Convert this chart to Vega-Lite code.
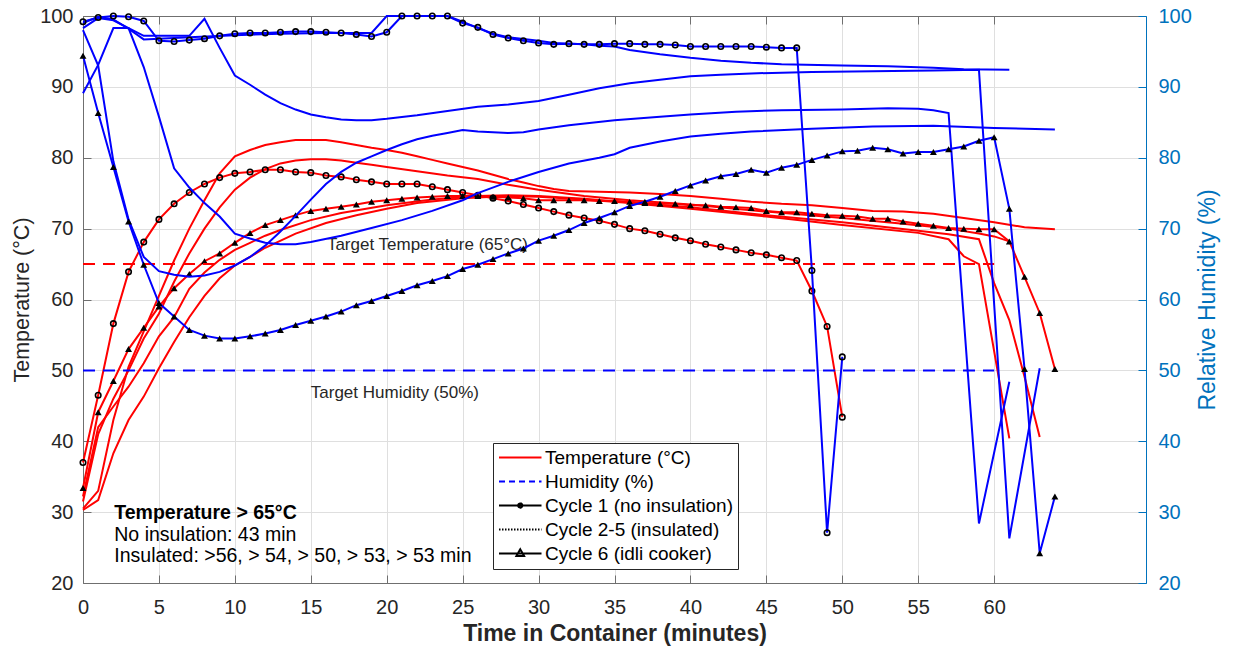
{
  "$schema": "https://vega.github.io/schema/vega-lite/v6.json",
  "width": 1063,
  "height": 567,
  "autosize": {"type": "none"},
  "padding": {"left": 83, "top": 16, "right": 87, "bottom": 65},
  "background": "white",
  "config": {
    "view": {"stroke": null},
    "font": "Liberation Sans",
    "axis": {"labelFont": "Liberation Sans", "titleFont": "Liberation Sans", "labelFlush": false},
    "legend": {"labelFont": "Liberation Sans"}
  },
  "datasets": {
    "temperature": [
      {"cycle":"Cycle 1","time":0,"value":37.0},{"cycle":"Cycle 1","time":1,"value":46.5},{"cycle":"Cycle 1","time":2,"value":56.6},{"cycle":"Cycle 1","time":3,"value":63.9},{"cycle":"Cycle 1","time":4,"value":68.1},{"cycle":"Cycle 1","time":5,"value":71.3},{"cycle":"Cycle 1","time":6,"value":73.5},{"cycle":"Cycle 1","time":7,"value":75.1},{"cycle":"Cycle 1","time":8,"value":76.3},{"cycle":"Cycle 1","time":9,"value":77.2},
      {"cycle":"Cycle 1","time":10,"value":77.8},{"cycle":"Cycle 1","time":11,"value":78.0},{"cycle":"Cycle 1","time":12,"value":78.3},{"cycle":"Cycle 1","time":13,"value":78.3},{"cycle":"Cycle 1","time":14,"value":78.0},{"cycle":"Cycle 1","time":15,"value":77.9},{"cycle":"Cycle 1","time":16,"value":77.5},{"cycle":"Cycle 1","time":17,"value":77.3},{"cycle":"Cycle 1","time":18,"value":76.9},{"cycle":"Cycle 1","time":19,"value":76.6},
      {"cycle":"Cycle 1","time":20,"value":76.3},{"cycle":"Cycle 1","time":21,"value":76.3},{"cycle":"Cycle 1","time":22,"value":76.3},{"cycle":"Cycle 1","time":23,"value":75.9},{"cycle":"Cycle 1","time":24,"value":75.5},{"cycle":"Cycle 1","time":25,"value":75.1},{"cycle":"Cycle 1","time":26,"value":74.7},{"cycle":"Cycle 1","time":27,"value":74.3},{"cycle":"Cycle 1","time":28,"value":73.9},{"cycle":"Cycle 1","time":29,"value":73.4},
      {"cycle":"Cycle 1","time":30,"value":72.9},{"cycle":"Cycle 1","time":31,"value":72.4},{"cycle":"Cycle 1","time":32,"value":71.9},{"cycle":"Cycle 1","time":33,"value":71.5},{"cycle":"Cycle 1","time":34,"value":71.1},{"cycle":"Cycle 1","time":35,"value":70.6},{"cycle":"Cycle 1","time":36,"value":70.0},{"cycle":"Cycle 1","time":37,"value":69.7},{"cycle":"Cycle 1","time":38,"value":69.2},{"cycle":"Cycle 1","time":39,"value":68.7},
      {"cycle":"Cycle 1","time":40,"value":68.3},{"cycle":"Cycle 1","time":41,"value":67.8},{"cycle":"Cycle 1","time":42,"value":67.4},{"cycle":"Cycle 1","time":43,"value":67.0},{"cycle":"Cycle 1","time":44,"value":66.6},{"cycle":"Cycle 1","time":45,"value":66.3},{"cycle":"Cycle 1","time":46,"value":65.9},{"cycle":"Cycle 1","time":47,"value":65.5},{"cycle":"Cycle 1","time":48,"value":61.2},{"cycle":"Cycle 1","time":49,"value":56.2},
      {"cycle":"Cycle 1","time":50,"value":43.4},

      {"cycle":"Cycle 2","time":0,"value":30.5},{"cycle":"Cycle 2","time":1,"value":33.0},{"cycle":"Cycle 2","time":2,"value":43.0},{"cycle":"Cycle 2","time":3,"value":50.5},{"cycle":"Cycle 2","time":4,"value":55.5},{"cycle":"Cycle 2","time":5,"value":60.5},{"cycle":"Cycle 2","time":6,"value":65.5},{"cycle":"Cycle 2","time":7,"value":70.0},{"cycle":"Cycle 2","time":8,"value":74.0},{"cycle":"Cycle 2","time":9,"value":77.8},
      {"cycle":"Cycle 2","time":10,"value":80.2},{"cycle":"Cycle 2","time":11,"value":81.1},{"cycle":"Cycle 2","time":12,"value":81.8},{"cycle":"Cycle 2","time":13,"value":82.2},{"cycle":"Cycle 2","time":14,"value":82.5},{"cycle":"Cycle 2","time":15,"value":82.5},{"cycle":"Cycle 2","time":16,"value":82.5},{"cycle":"Cycle 2","time":17,"value":82.2},{"cycle":"Cycle 2","time":18,"value":81.8},{"cycle":"Cycle 2","time":19,"value":81.4},
      {"cycle":"Cycle 2","time":20,"value":81.1},{"cycle":"Cycle 2","time":21,"value":80.7},{"cycle":"Cycle 2","time":22,"value":80.2},{"cycle":"Cycle 2","time":23,"value":79.7},{"cycle":"Cycle 2","time":24,"value":79.2},{"cycle":"Cycle 2","time":25,"value":78.7},{"cycle":"Cycle 2","time":26,"value":78.2},{"cycle":"Cycle 2","time":27,"value":77.6},{"cycle":"Cycle 2","time":28,"value":77.0},{"cycle":"Cycle 2","time":29,"value":76.5},
      {"cycle":"Cycle 2","time":30,"value":76.0},{"cycle":"Cycle 2","time":31,"value":75.6},{"cycle":"Cycle 2","time":32,"value":75.3},{"cycle":"Cycle 2","time":34,"value":75.2},{"cycle":"Cycle 2","time":36,"value":75.1},{"cycle":"Cycle 2","time":38,"value":74.9},{"cycle":"Cycle 2","time":40,"value":74.6},{"cycle":"Cycle 2","time":42,"value":74.2},{"cycle":"Cycle 2","time":44,"value":73.8},{"cycle":"Cycle 2","time":46,"value":73.5},
      {"cycle":"Cycle 2","time":48,"value":73.3},{"cycle":"Cycle 2","time":50,"value":72.9},{"cycle":"Cycle 2","time":52,"value":72.5},{"cycle":"Cycle 2","time":54,"value":72.4},{"cycle":"Cycle 2","time":56,"value":72.1},{"cycle":"Cycle 2","time":58,"value":71.5},{"cycle":"Cycle 2","time":60,"value":70.9},{"cycle":"Cycle 2","time":62,"value":70.2},{"cycle":"Cycle 2","time":64,"value":69.9},

      {"cycle":"Cycle 3","time":0,"value":31.5},{"cycle":"Cycle 3","time":1,"value":41.0},{"cycle":"Cycle 3","time":2,"value":46.0},{"cycle":"Cycle 3","time":3,"value":50.0},{"cycle":"Cycle 3","time":4,"value":54.5},{"cycle":"Cycle 3","time":5,"value":58.0},{"cycle":"Cycle 3","time":6,"value":62.5},{"cycle":"Cycle 3","time":7,"value":66.5},{"cycle":"Cycle 3","time":8,"value":70.0},{"cycle":"Cycle 3","time":9,"value":73.0},
      {"cycle":"Cycle 3","time":10,"value":75.5},{"cycle":"Cycle 3","time":11,"value":77.2},{"cycle":"Cycle 3","time":12,"value":78.4},{"cycle":"Cycle 3","time":13,"value":79.2},{"cycle":"Cycle 3","time":14,"value":79.6},{"cycle":"Cycle 3","time":15,"value":79.8},{"cycle":"Cycle 3","time":16,"value":79.8},{"cycle":"Cycle 3","time":17,"value":79.6},{"cycle":"Cycle 3","time":18,"value":79.3},{"cycle":"Cycle 3","time":19,"value":79.0},
      {"cycle":"Cycle 3","time":20,"value":78.7},{"cycle":"Cycle 3","time":22,"value":78.1},{"cycle":"Cycle 3","time":24,"value":77.5},{"cycle":"Cycle 3","time":26,"value":77.0},{"cycle":"Cycle 3","time":28,"value":76.2},{"cycle":"Cycle 3","time":30,"value":75.5},{"cycle":"Cycle 3","time":33,"value":74.6},{"cycle":"Cycle 3","time":36,"value":74.0},{"cycle":"Cycle 3","time":40,"value":73.4},{"cycle":"Cycle 3","time":45,"value":72.4},
      {"cycle":"Cycle 3","time":50,"value":71.5},{"cycle":"Cycle 3","time":54,"value":70.7},{"cycle":"Cycle 3","time":57,"value":70.0},{"cycle":"Cycle 3","time":59,"value":69.3},{"cycle":"Cycle 3","time":60,"value":68.9},{"cycle":"Cycle 3","time":61,"value":68.2},

      {"cycle":"Cycle 4","time":0,"value":32.2},{"cycle":"Cycle 4","time":1,"value":42.0},{"cycle":"Cycle 4","time":2,"value":44.9},{"cycle":"Cycle 4","time":3,"value":47.7},{"cycle":"Cycle 4","time":4,"value":51.0},{"cycle":"Cycle 4","time":5,"value":54.8},{"cycle":"Cycle 4","time":6,"value":57.5},{"cycle":"Cycle 4","time":7,"value":61.5},{"cycle":"Cycle 4","time":8,"value":63.8},{"cycle":"Cycle 4","time":9,"value":65.6},
      {"cycle":"Cycle 4","time":10,"value":67.0},{"cycle":"Cycle 4","time":11,"value":68.0},{"cycle":"Cycle 4","time":12,"value":69.0},{"cycle":"Cycle 4","time":13,"value":69.8},{"cycle":"Cycle 4","time":15,"value":71.2},{"cycle":"Cycle 4","time":17,"value":72.2},{"cycle":"Cycle 4","time":20,"value":73.3},{"cycle":"Cycle 4","time":23,"value":74.1},{"cycle":"Cycle 4","time":26,"value":74.6},{"cycle":"Cycle 4","time":28,"value":74.7},
      {"cycle":"Cycle 4","time":30,"value":74.6},{"cycle":"Cycle 4","time":33,"value":74.2},{"cycle":"Cycle 4","time":36,"value":73.7},{"cycle":"Cycle 4","time":40,"value":73.0},{"cycle":"Cycle 4","time":45,"value":71.9},{"cycle":"Cycle 4","time":50,"value":70.9},{"cycle":"Cycle 4","time":55,"value":69.7},{"cycle":"Cycle 4","time":57,"value":69.2},{"cycle":"Cycle 4","time":59,"value":68.5},{"cycle":"Cycle 4","time":60,"value":62.3},
      {"cycle":"Cycle 4","time":61,"value":57.1},{"cycle":"Cycle 4","time":62,"value":49.1},{"cycle":"Cycle 4","time":63,"value":40.6},

      {"cycle":"Cycle 5","time":0,"value":30.3},{"cycle":"Cycle 5","time":1,"value":31.7},{"cycle":"Cycle 5","time":2,"value":38.3},{"cycle":"Cycle 5","time":3,"value":43.0},{"cycle":"Cycle 5","time":4,"value":46.3},{"cycle":"Cycle 5","time":5,"value":50.3},{"cycle":"Cycle 5","time":6,"value":54.0},{"cycle":"Cycle 5","time":7,"value":57.5},{"cycle":"Cycle 5","time":8,"value":60.5},{"cycle":"Cycle 5","time":9,"value":63.0},
      {"cycle":"Cycle 5","time":10,"value":64.8},{"cycle":"Cycle 5","time":11,"value":66.0},{"cycle":"Cycle 5","time":12,"value":67.3},{"cycle":"Cycle 5","time":14,"value":69.3},{"cycle":"Cycle 5","time":16,"value":70.8},{"cycle":"Cycle 5","time":18,"value":71.9},{"cycle":"Cycle 5","time":20,"value":72.8},{"cycle":"Cycle 5","time":22,"value":73.6},{"cycle":"Cycle 5","time":25,"value":74.3},{"cycle":"Cycle 5","time":28,"value":74.6},
      {"cycle":"Cycle 5","time":30,"value":74.5},{"cycle":"Cycle 5","time":33,"value":74.1},{"cycle":"Cycle 5","time":36,"value":73.6},{"cycle":"Cycle 5","time":40,"value":72.8},{"cycle":"Cycle 5","time":45,"value":71.7},{"cycle":"Cycle 5","time":50,"value":70.5},{"cycle":"Cycle 5","time":55,"value":69.4},{"cycle":"Cycle 5","time":57,"value":68.5},{"cycle":"Cycle 5","time":58,"value":66.1},{"cycle":"Cycle 5","time":59,"value":65.0},
      {"cycle":"Cycle 5","time":61,"value":40.4},

      {"cycle":"Cycle 6","time":0,"value":33.4},{"cycle":"Cycle 6","time":1,"value":44.1},{"cycle":"Cycle 6","time":2,"value":48.5},{"cycle":"Cycle 6","time":3,"value":53.0},{"cycle":"Cycle 6","time":4,"value":56.0},{"cycle":"Cycle 6","time":5,"value":59.0},{"cycle":"Cycle 6","time":6,"value":61.6},{"cycle":"Cycle 6","time":7,"value":63.6},{"cycle":"Cycle 6","time":8,"value":65.4},{"cycle":"Cycle 6","time":9,"value":66.5},
      {"cycle":"Cycle 6","time":10,"value":68.0},{"cycle":"Cycle 6","time":11,"value":69.4},{"cycle":"Cycle 6","time":12,"value":70.5},{"cycle":"Cycle 6","time":13,"value":71.2},{"cycle":"Cycle 6","time":14,"value":71.9},{"cycle":"Cycle 6","time":15,"value":72.5},{"cycle":"Cycle 6","time":16,"value":72.8},{"cycle":"Cycle 6","time":17,"value":73.1},{"cycle":"Cycle 6","time":18,"value":73.4},{"cycle":"Cycle 6","time":19,"value":73.8},
      {"cycle":"Cycle 6","time":20,"value":74.0},{"cycle":"Cycle 6","time":21,"value":74.2},{"cycle":"Cycle 6","time":22,"value":74.4},{"cycle":"Cycle 6","time":23,"value":74.5},{"cycle":"Cycle 6","time":24,"value":74.6},{"cycle":"Cycle 6","time":25,"value":74.6},{"cycle":"Cycle 6","time":26,"value":74.6},{"cycle":"Cycle 6","time":27,"value":74.5},{"cycle":"Cycle 6","time":28,"value":74.4},{"cycle":"Cycle 6","time":29,"value":74.3},
      {"cycle":"Cycle 6","time":30,"value":74.0},{"cycle":"Cycle 6","time":31,"value":74.0},{"cycle":"Cycle 6","time":32,"value":74.0},{"cycle":"Cycle 6","time":33,"value":74.0},{"cycle":"Cycle 6","time":34,"value":73.9},{"cycle":"Cycle 6","time":35,"value":73.9},{"cycle":"Cycle 6","time":36,"value":73.8},{"cycle":"Cycle 6","time":37,"value":73.6},{"cycle":"Cycle 6","time":38,"value":73.5},{"cycle":"Cycle 6","time":39,"value":73.5},
      {"cycle":"Cycle 6","time":40,"value":73.3},{"cycle":"Cycle 6","time":41,"value":73.3},{"cycle":"Cycle 6","time":42,"value":73.1},{"cycle":"Cycle 6","time":43,"value":73.0},{"cycle":"Cycle 6","time":44,"value":72.9},{"cycle":"Cycle 6","time":45,"value":72.5},{"cycle":"Cycle 6","time":46,"value":72.3},{"cycle":"Cycle 6","time":47,"value":72.3},{"cycle":"Cycle 6","time":48,"value":72.1},{"cycle":"Cycle 6","time":49,"value":71.9},
      {"cycle":"Cycle 6","time":50,"value":71.8},{"cycle":"Cycle 6","time":51,"value":71.7},{"cycle":"Cycle 6","time":52,"value":71.4},{"cycle":"Cycle 6","time":53,"value":71.4},{"cycle":"Cycle 6","time":54,"value":71.0},{"cycle":"Cycle 6","time":55,"value":70.7},{"cycle":"Cycle 6","time":56,"value":70.4},{"cycle":"Cycle 6","time":57,"value":70.1},{"cycle":"Cycle 6","time":58,"value":70.0},{"cycle":"Cycle 6","time":59,"value":69.9},
      {"cycle":"Cycle 6","time":60,"value":69.9},{"cycle":"Cycle 6","time":61,"value":68.2},{"cycle":"Cycle 6","time":62,"value":63.2},{"cycle":"Cycle 6","time":63,"value":58.1},{"cycle":"Cycle 6","time":64,"value":50.2}
    ],
    "humidity": [
      {"cycle":"Cycle 1","time":0,"value":99.2},{"cycle":"Cycle 1","time":1,"value":99.8},{"cycle":"Cycle 1","time":2,"value":100},{"cycle":"Cycle 1","time":3,"value":99.9},{"cycle":"Cycle 1","time":4,"value":99.3},{"cycle":"Cycle 1","time":5,"value":96.5},{"cycle":"Cycle 1","time":6,"value":96.4},{"cycle":"Cycle 1","time":7,"value":96.6},{"cycle":"Cycle 1","time":8,"value":96.8},{"cycle":"Cycle 1","time":9,"value":97.2},
      {"cycle":"Cycle 1","time":10,"value":97.5},{"cycle":"Cycle 1","time":11,"value":97.6},{"cycle":"Cycle 1","time":12,"value":97.6},{"cycle":"Cycle 1","time":13,"value":97.7},{"cycle":"Cycle 1","time":14,"value":97.8},{"cycle":"Cycle 1","time":15,"value":97.8},{"cycle":"Cycle 1","time":16,"value":97.7},{"cycle":"Cycle 1","time":17,"value":97.6},{"cycle":"Cycle 1","time":18,"value":97.4},{"cycle":"Cycle 1","time":19,"value":97.1},
      {"cycle":"Cycle 1","time":20,"value":97.7},{"cycle":"Cycle 1","time":21,"value":100},{"cycle":"Cycle 1","time":22,"value":100},{"cycle":"Cycle 1","time":23,"value":100},{"cycle":"Cycle 1","time":24,"value":100},{"cycle":"Cycle 1","time":25,"value":99.0},{"cycle":"Cycle 1","time":26,"value":98.4},{"cycle":"Cycle 1","time":27,"value":97.4},{"cycle":"Cycle 1","time":28,"value":96.9},{"cycle":"Cycle 1","time":29,"value":96.5},
      {"cycle":"Cycle 1","time":30,"value":96.2},{"cycle":"Cycle 1","time":31,"value":96.0},{"cycle":"Cycle 1","time":32,"value":96.1},{"cycle":"Cycle 1","time":33,"value":96.0},{"cycle":"Cycle 1","time":34,"value":96.0},{"cycle":"Cycle 1","time":35,"value":96.1},{"cycle":"Cycle 1","time":36,"value":96.1},{"cycle":"Cycle 1","time":37,"value":96.0},{"cycle":"Cycle 1","time":38,"value":96.0},{"cycle":"Cycle 1","time":39,"value":95.9},
      {"cycle":"Cycle 1","time":40,"value":95.7},{"cycle":"Cycle 1","time":41,"value":95.7},{"cycle":"Cycle 1","time":42,"value":95.7},{"cycle":"Cycle 1","time":43,"value":95.7},{"cycle":"Cycle 1","time":44,"value":95.7},{"cycle":"Cycle 1","time":45,"value":95.6},{"cycle":"Cycle 1","time":46,"value":95.5},{"cycle":"Cycle 1","time":47,"value":95.5},{"cycle":"Cycle 1","time":48,"value":64.1},{"cycle":"Cycle 1","time":49,"value":27.1},
      {"cycle":"Cycle 1","time":50,"value":51.9},

      {"cycle":"Cycle 2","time":0,"value":89.1},{"cycle":"Cycle 2","time":1,"value":93.1},{"cycle":"Cycle 2","time":2,"value":98.3},{"cycle":"Cycle 2","time":3,"value":98.3},{"cycle":"Cycle 2","time":4,"value":92.8},{"cycle":"Cycle 2","time":5,"value":85.8},{"cycle":"Cycle 2","time":6,"value":78.5},{"cycle":"Cycle 2","time":7,"value":75.8},{"cycle":"Cycle 2","time":8,"value":73.6},{"cycle":"Cycle 2","time":9,"value":71.7},
      {"cycle":"Cycle 2","time":10,"value":69.3},{"cycle":"Cycle 2","time":11,"value":68.6},{"cycle":"Cycle 2","time":12,"value":68.0},{"cycle":"Cycle 2","time":13,"value":67.8},{"cycle":"Cycle 2","time":14,"value":67.8},{"cycle":"Cycle 2","time":15,"value":68.1},{"cycle":"Cycle 2","time":17,"value":69.0},{"cycle":"Cycle 2","time":19,"value":70.1},{"cycle":"Cycle 2","time":21,"value":71.2},{"cycle":"Cycle 2","time":23,"value":72.5},
      {"cycle":"Cycle 2","time":25,"value":74.0},{"cycle":"Cycle 2","time":26,"value":75.0},{"cycle":"Cycle 2","time":28,"value":76.6},{"cycle":"Cycle 2","time":30,"value":78.0},{"cycle":"Cycle 2","time":32,"value":79.2},{"cycle":"Cycle 2","time":34,"value":80.0},{"cycle":"Cycle 2","time":35,"value":80.5},{"cycle":"Cycle 2","time":36,"value":81.4},{"cycle":"Cycle 2","time":38,"value":82.3},{"cycle":"Cycle 2","time":40,"value":83.0},
      {"cycle":"Cycle 2","time":42,"value":83.4},{"cycle":"Cycle 2","time":44,"value":83.7},{"cycle":"Cycle 2","time":48,"value":84.1},{"cycle":"Cycle 2","time":52,"value":84.4},{"cycle":"Cycle 2","time":56,"value":84.5},{"cycle":"Cycle 2","time":60,"value":84.2},{"cycle":"Cycle 2","time":64,"value":84.0},

      {"cycle":"Cycle 3","time":0,"value":99.0},{"cycle":"Cycle 3","time":1,"value":99.9},{"cycle":"Cycle 3","time":2,"value":99.5},{"cycle":"Cycle 3","time":3,"value":98.2},{"cycle":"Cycle 3","time":4,"value":96.7},{"cycle":"Cycle 3","time":5,"value":96.8},{"cycle":"Cycle 3","time":7,"value":97.0},{"cycle":"Cycle 3","time":10,"value":97.3},{"cycle":"Cycle 3","time":13,"value":97.5},{"cycle":"Cycle 3","time":16,"value":97.6},
      {"cycle":"Cycle 3","time":19,"value":97.6},{"cycle":"Cycle 3","time":20,"value":100},{"cycle":"Cycle 3","time":21,"value":100},{"cycle":"Cycle 3","time":22,"value":100},{"cycle":"Cycle 3","time":23,"value":100},{"cycle":"Cycle 3","time":24,"value":100},{"cycle":"Cycle 3","time":25,"value":99.2},{"cycle":"Cycle 3","time":26,"value":98.3},{"cycle":"Cycle 3","time":27,"value":97.5},{"cycle":"Cycle 3","time":28,"value":97.0},
      {"cycle":"Cycle 3","time":30,"value":96.5},{"cycle":"Cycle 3","time":31,"value":96.2},{"cycle":"Cycle 3","time":33,"value":96.0},{"cycle":"Cycle 3","time":34,"value":95.8},{"cycle":"Cycle 3","time":35,"value":95.7},{"cycle":"Cycle 3","time":36,"value":95.2},{"cycle":"Cycle 3","time":38,"value":94.6},{"cycle":"Cycle 3","time":40,"value":94.1},{"cycle":"Cycle 3","time":42,"value":93.7},{"cycle":"Cycle 3","time":44,"value":93.4},
      {"cycle":"Cycle 3","time":46,"value":93.2},{"cycle":"Cycle 3","time":50,"value":93.0},{"cycle":"Cycle 3","time":53,"value":92.9},{"cycle":"Cycle 3","time":56,"value":92.7},{"cycle":"Cycle 3","time":58,"value":92.5},{"cycle":"Cycle 3","time":61,"value":92.4},

      {"cycle":"Cycle 4","time":0,"value":98.3},{"cycle":"Cycle 4","time":1,"value":99.7},{"cycle":"Cycle 4","time":2,"value":99.4},{"cycle":"Cycle 4","time":3,"value":98.3},{"cycle":"Cycle 4","time":4,"value":97.2},{"cycle":"Cycle 4","time":5,"value":97.2},{"cycle":"Cycle 4","time":6,"value":97.2},{"cycle":"Cycle 4","time":7,"value":97.2},{"cycle":"Cycle 4","time":8,"value":99.6},{"cycle":"Cycle 4","time":9,"value":95.5},
      {"cycle":"Cycle 4","time":10,"value":91.6},{"cycle":"Cycle 4","time":11,"value":90.3},{"cycle":"Cycle 4","time":12,"value":88.9},{"cycle":"Cycle 4","time":13,"value":87.7},{"cycle":"Cycle 4","time":14,"value":86.8},{"cycle":"Cycle 4","time":15,"value":86.1},{"cycle":"Cycle 4","time":16,"value":85.7},{"cycle":"Cycle 4","time":17,"value":85.4},{"cycle":"Cycle 4","time":18,"value":85.3},{"cycle":"Cycle 4","time":19,"value":85.3},
      {"cycle":"Cycle 4","time":20,"value":85.5},{"cycle":"Cycle 4","time":22,"value":86.0},{"cycle":"Cycle 4","time":24,"value":86.6},{"cycle":"Cycle 4","time":26,"value":87.2},{"cycle":"Cycle 4","time":28,"value":87.5},{"cycle":"Cycle 4","time":30,"value":88.0},{"cycle":"Cycle 4","time":32,"value":88.9},{"cycle":"Cycle 4","time":34,"value":89.8},{"cycle":"Cycle 4","time":36,"value":90.5},{"cycle":"Cycle 4","time":38,"value":91.0},
      {"cycle":"Cycle 4","time":40,"value":91.5},{"cycle":"Cycle 4","time":42,"value":91.7},{"cycle":"Cycle 4","time":44,"value":91.9},{"cycle":"Cycle 4","time":48,"value":92.1},{"cycle":"Cycle 4","time":52,"value":92.2},{"cycle":"Cycle 4","time":56,"value":92.3},{"cycle":"Cycle 4","time":59,"value":92.4},{"cycle":"Cycle 4","time":61,"value":26.3},{"cycle":"Cycle 4","time":63,"value":50.3},

      {"cycle":"Cycle 5","time":0,"value":98.0},{"cycle":"Cycle 5","time":1,"value":93.0},{"cycle":"Cycle 5","time":2,"value":79.5},{"cycle":"Cycle 5","time":3,"value":71.3},{"cycle":"Cycle 5","time":4,"value":66.0},{"cycle":"Cycle 5","time":5,"value":64.0},{"cycle":"Cycle 5","time":6,"value":63.5},{"cycle":"Cycle 5","time":7,"value":63.2},{"cycle":"Cycle 5","time":8,"value":63.4},{"cycle":"Cycle 5","time":9,"value":63.9},
      {"cycle":"Cycle 5","time":10,"value":64.8},{"cycle":"Cycle 5","time":11,"value":66.0},{"cycle":"Cycle 5","time":12,"value":67.6},{"cycle":"Cycle 5","time":13,"value":69.6},{"cycle":"Cycle 5","time":14,"value":71.8},{"cycle":"Cycle 5","time":15,"value":74.1},{"cycle":"Cycle 5","time":16,"value":76.3},{"cycle":"Cycle 5","time":17,"value":78.0},{"cycle":"Cycle 5","time":18,"value":79.3},{"cycle":"Cycle 5","time":19,"value":80.2},
      {"cycle":"Cycle 5","time":20,"value":81.1},{"cycle":"Cycle 5","time":21,"value":81.9},{"cycle":"Cycle 5","time":22,"value":82.6},{"cycle":"Cycle 5","time":23,"value":83.1},{"cycle":"Cycle 5","time":24,"value":83.5},{"cycle":"Cycle 5","time":25,"value":83.9},{"cycle":"Cycle 5","time":26,"value":83.7},{"cycle":"Cycle 5","time":28,"value":83.5},{"cycle":"Cycle 5","time":29,"value":83.6},{"cycle":"Cycle 5","time":30,"value":84.0},
      {"cycle":"Cycle 5","time":32,"value":84.6},{"cycle":"Cycle 5","time":35,"value":85.3},{"cycle":"Cycle 5","time":38,"value":85.8},{"cycle":"Cycle 5","time":40,"value":86.1},{"cycle":"Cycle 5","time":43,"value":86.5},{"cycle":"Cycle 5","time":46,"value":86.7},{"cycle":"Cycle 5","time":50,"value":86.8},{"cycle":"Cycle 5","time":53,"value":87.0},{"cycle":"Cycle 5","time":55,"value":86.9},{"cycle":"Cycle 5","time":56,"value":86.7},
      {"cycle":"Cycle 5","time":57,"value":86.3},{"cycle":"Cycle 5","time":59,"value":28.4},{"cycle":"Cycle 5","time":61,"value":48.4},

      {"cycle":"Cycle 6","time":0,"value":94.4},{"cycle":"Cycle 6","time":1,"value":86.3},{"cycle":"Cycle 6","time":2,"value":78.7},{"cycle":"Cycle 6","time":3,"value":71.0},{"cycle":"Cycle 6","time":4,"value":64.9},{"cycle":"Cycle 6","time":5,"value":59.5},{"cycle":"Cycle 6","time":6,"value":57.6},{"cycle":"Cycle 6","time":7,"value":55.7},{"cycle":"Cycle 6","time":8,"value":54.9},{"cycle":"Cycle 6","time":9,"value":54.5},
      {"cycle":"Cycle 6","time":10,"value":54.5},{"cycle":"Cycle 6","time":11,"value":54.8},{"cycle":"Cycle 6","time":12,"value":55.2},{"cycle":"Cycle 6","time":13,"value":55.7},{"cycle":"Cycle 6","time":14,"value":56.4},{"cycle":"Cycle 6","time":15,"value":57.0},{"cycle":"Cycle 6","time":16,"value":57.6},{"cycle":"Cycle 6","time":17,"value":58.3},{"cycle":"Cycle 6","time":18,"value":59.2},{"cycle":"Cycle 6","time":19,"value":59.8},
      {"cycle":"Cycle 6","time":20,"value":60.5},{"cycle":"Cycle 6","time":21,"value":61.2},{"cycle":"Cycle 6","time":22,"value":62.0},{"cycle":"Cycle 6","time":23,"value":62.6},{"cycle":"Cycle 6","time":24,"value":63.3},{"cycle":"Cycle 6","time":25,"value":64.3},{"cycle":"Cycle 6","time":26,"value":64.9},{"cycle":"Cycle 6","time":27,"value":65.7},{"cycle":"Cycle 6","time":28,"value":66.5},{"cycle":"Cycle 6","time":29,"value":67.2},
      {"cycle":"Cycle 6","time":30,"value":68.3},{"cycle":"Cycle 6","time":31,"value":69.0},{"cycle":"Cycle 6","time":32,"value":69.8},{"cycle":"Cycle 6","time":33,"value":70.8},{"cycle":"Cycle 6","time":34,"value":71.5},{"cycle":"Cycle 6","time":35,"value":72.3},{"cycle":"Cycle 6","time":36,"value":73.2},{"cycle":"Cycle 6","time":37,"value":73.8},{"cycle":"Cycle 6","time":38,"value":74.5},{"cycle":"Cycle 6","time":39,"value":75.3},
      {"cycle":"Cycle 6","time":40,"value":76.1},{"cycle":"Cycle 6","time":41,"value":76.8},{"cycle":"Cycle 6","time":42,"value":77.4},{"cycle":"Cycle 6","time":43,"value":77.7},{"cycle":"Cycle 6","time":44,"value":78.3},{"cycle":"Cycle 6","time":45,"value":77.9},{"cycle":"Cycle 6","time":46,"value":78.6},{"cycle":"Cycle 6","time":47,"value":79.0},{"cycle":"Cycle 6","time":48,"value":79.7},{"cycle":"Cycle 6","time":49,"value":80.3},
      {"cycle":"Cycle 6","time":50,"value":80.9},{"cycle":"Cycle 6","time":51,"value":81.0},{"cycle":"Cycle 6","time":52,"value":81.4},{"cycle":"Cycle 6","time":53,"value":81.2},{"cycle":"Cycle 6","time":54,"value":80.6},{"cycle":"Cycle 6","time":55,"value":80.8},{"cycle":"Cycle 6","time":56,"value":80.8},{"cycle":"Cycle 6","time":57,"value":81.2},{"cycle":"Cycle 6","time":58,"value":81.6},{"cycle":"Cycle 6","time":59,"value":82.4},
      {"cycle":"Cycle 6","time":60,"value":82.9},{"cycle":"Cycle 6","time":61,"value":72.8},{"cycle":"Cycle 6","time":62,"value":50.2},{"cycle":"Cycle 6","time":63,"value":24.2},{"cycle":"Cycle 6","time":64,"value":32.2}
    ],
    "legendEntries": [
      {"entry": "Temperature (°C)"},
      {"entry": "Humidity (%)"},
      {"entry": "Cycle 1 (no insulation)"},
      {"entry": "Cycle 2-5 (insulated)"},
      {"entry": "Cycle 6 (idli cooker)"}
    ]
  },
  "layer": [
    {
      "data": {"name": "temperature"},
      "layer": [
        {
          "mark": {"type": "line", "color": "#ff0000", "strokeWidth": 2},
          "encoding": {
            "x": {
              "field": "time", "type": "quantitative",
              "scale": {"domain": [0, 70], "nice": false, "zero": false},
              "axis": {
                "orient": "bottom", "values": [0,5,10,15,20,25,30,35,40,45,50,55,60],
                "title": "Time in Container (minutes)", "titleFontSize": 23, "titleFontWeight": "bold", "titleColor": "#262626", "titlePadding": 5,
                "labelFontSize": 20, "labelColor": "#262626", "labelPadding": 22, "labelFlush": false,
                "grid": true, "gridColor": "#dfdfdf", "domainColor": "#6f6f6f", "tickColor": "#6f6f6f", "tickSize": -8
              }
            },
            "y": {
              "field": "value", "type": "quantitative",
              "scale": {"domain": [20, 100], "nice": false, "zero": false},
              "axis": {
                "orient": "left", "values": [20,30,40,50,60,70,80,90,100],
                "title": "Temperature (°C)", "titleFontSize": 21.5, "titleFontWeight": "normal", "titleColor": "#262626", "titlePadding": 6,
                "labelFontSize": 20, "labelColor": "#262626", "labelPadding": 18, "labelFlush": false,
                "grid": true, "gridColor": "#dfdfdf", "domainColor": "#6f6f6f", "tickColor": "#6f6f6f", "tickSize": -8
              }
            },
            "detail": {"field": "cycle"}
          }
        },
        {
          "transform": [{"filter": "datum.cycle === 'Cycle 1'"}],
          "mark": {"type": "point", "shape": "circle", "filled": false, "stroke": "#000000", "strokeWidth": 1.6, "size": 30, "opacity": 1},
          "encoding": {"x": {"field": "time", "type": "quantitative"}, "y": {"field": "value", "type": "quantitative"}}
        },
        {
          "transform": [{"filter": "datum.cycle === 'Cycle 6'"}],
          "mark": {"type": "point", "shape": "triangle-up", "filled": true, "color": "#000000", "size": 48, "opacity": 1},
          "encoding": {"x": {"field": "time", "type": "quantitative"}, "y": {"field": "value", "type": "quantitative"}}
        },
        {
          "data": {"values": [{}]},
          "mark": {"type": "rule", "color": "#ff0000", "strokeWidth": 2, "strokeDash": [12, 8]},
          "encoding": {"x": {"datum": 0}, "x2": {"datum": 60}, "y": {"datum": 65}}
        },
        {
          "data": {"values": [{}]},
          "mark": {"type": "text", "text": "Target Temperature (65°C)", "align": "left", "baseline": "alphabetic", "fontSize": 17, "color": "#262626"},
          "encoding": {"x": {"datum": 16.06}, "y": {"datum": 67.0}}
        },
        {
          "data": {"values": [{}]},
          "mark": {"type": "text", "text": "Temperature > 65°C", "align": "left", "baseline": "alphabetic", "fontSize": 19.5, "fontWeight": "bold", "color": "#000000"},
          "encoding": {"x": {"datum": 2.06}, "y": {"datum": 29.0}}
        },
        {
          "data": {"values": [{}]},
          "mark": {"type": "text", "text": "No insulation: 43 min", "align": "left", "baseline": "alphabetic", "fontSize": 19.5, "color": "#000000"},
          "encoding": {"x": {"datum": 2.06}, "y": {"datum": 25.93}}
        },
        {
          "data": {"values": [{}]},
          "mark": {"type": "text", "text": "Insulated: >56, > 54, > 50, > 53, > 53 min", "align": "left", "baseline": "alphabetic", "fontSize": 19.5, "color": "#000000"},
          "encoding": {"x": {"datum": 2.06}, "y": {"datum": 22.9}}
        }
      ]
    },
    {
      "data": {"name": "humidity"},
      "layer": [
        {
          "mark": {"type": "line", "color": "#0000ff", "strokeWidth": 2},
          "encoding": {
            "x": {
              "field": "time", "type": "quantitative",
              "scale": {"domain": [0, 70], "nice": false, "zero": false},
              "axis": {
                "orient": "top", "values": [0,5,10,15,20,25,30,35,40,45,50,55,60],
                "labels": false, "title": null, "grid": false,
                "domainColor": "#6f6f6f", "tickColor": "#6f6f6f", "tickSize": -8
              }
            },
            "y": {
              "field": "value", "type": "quantitative",
              "scale": {"domain": [20, 100], "nice": false, "zero": false},
              "axis": {
                "orient": "right", "values": [20,30,40,50,60,70,80,90,100],
                "title": "Relative Humidity (%)", "titleFontSize": 23, "titleFontWeight": "normal", "titleColor": "#0072BD", "titlePadding": 28, "titleAngle": 270,
                "labelFontSize": 20, "labelColor": "#0072BD", "labelPadding": 20, "labelFlush": false,
                "grid": false, "domainColor": "#0072BD", "tickColor": "#0072BD", "tickSize": -8
              }
            },
            "detail": {"field": "cycle"}
          }
        },
        {
          "transform": [{"filter": "datum.cycle === 'Cycle 1'"}],
          "mark": {"type": "point", "shape": "circle", "filled": false, "stroke": "#000000", "strokeWidth": 1.6, "size": 30, "opacity": 1},
          "encoding": {"x": {"field": "time", "type": "quantitative"}, "y": {"field": "value", "type": "quantitative"}}
        },
        {
          "transform": [{"filter": "datum.cycle === 'Cycle 6'"}],
          "mark": {"type": "point", "shape": "triangle-up", "filled": true, "color": "#000000", "size": 48, "opacity": 1},
          "encoding": {"x": {"field": "time", "type": "quantitative"}, "y": {"field": "value", "type": "quantitative"}}
        },
        {
          "data": {"values": [{}]},
          "mark": {"type": "rule", "color": "#0000ff", "strokeWidth": 2, "strokeDash": [12, 8]},
          "encoding": {"x": {"datum": 0}, "x2": {"datum": 60}, "y": {"datum": 50}}
        },
        {
          "data": {"values": [{}]},
          "mark": {"type": "text", "text": "Target Humidity (50%)", "align": "left", "baseline": "alphabetic", "fontSize": 17, "color": "#262626"},
          "encoding": {"x": {"datum": 15.0}, "y": {"datum": 46.06}}
        }
      ]
    },
    {
      "data": {"name": "legendEntries"},
      "mark": {"type": "point", "filled": false, "opacity": 0},
      "encoding": {
        "color": {
          "field": "entry", "type": "nominal",
          "scale": {
            "domain": ["Temperature (°C)", "Humidity (%)", "Cycle 1 (no insulation)", "Cycle 2-5 (insulated)", "Cycle 6 (idli cooker)"],
            "range": ["#ff0000", "#0000ff", "#000000", "#000000", "#000000"]
          },
          "legend": {
            "orient": "none", "legendX": 410, "legendY": 427, "title": null,
            "labelFontSize": 19, "labelColor": "#000000", "labelOffset": 28, "labelLimit": 400,
            "symbolSize": 289, "symbolOpacity": 1, "symbolFillColor": "transparent",
            "strokeColor": "#262626", "fillColor": "#ffffff", "padding": 5, "rowPadding": 4
          }
        },
        "shape": {
          "field": "entry", "type": "nominal",
          "scale": {
            "domain": ["Temperature (°C)", "Humidity (%)", "Cycle 1 (no insulation)", "Cycle 2-5 (insulated)", "Cycle 6 (idli cooker)"],
            "range": [
              "M-1,0H4",
              "M-1,0H4",
              "M-1,0H4M1.25,0A0.25,0.25 0 1,0 1.75,0A0.25,0.25 0 1,0 1.25,0Z",
              "M-1,0H4",
              "M-1,0H4M1.5,-0.5L1.95,0.3L1.05,0.3Z"
            ]
          }
        },
        "strokeDash": {
          "field": "entry", "type": "nominal",
          "scale": {
            "domain": ["Temperature (°C)", "Humidity (%)", "Cycle 1 (no insulation)", "Cycle 2-5 (insulated)", "Cycle 6 (idli cooker)"],
            "range": [[1, 0], [6, 4], [1, 0], [1.5, 1.5], [1, 0]]
          }
        },
        "strokeWidth": {
          "field": "entry", "type": "nominal",
          "scale": {
            "domain": ["Temperature (°C)", "Humidity (%)", "Cycle 1 (no insulation)", "Cycle 2-5 (insulated)", "Cycle 6 (idli cooker)"],
            "range": [2, 2, 2, 1, 2]
          }
        }
      }
    }
  ],
  "resolve": {"scale": {"y": "independent"}, "axis": {"x": "independent"}}
}
